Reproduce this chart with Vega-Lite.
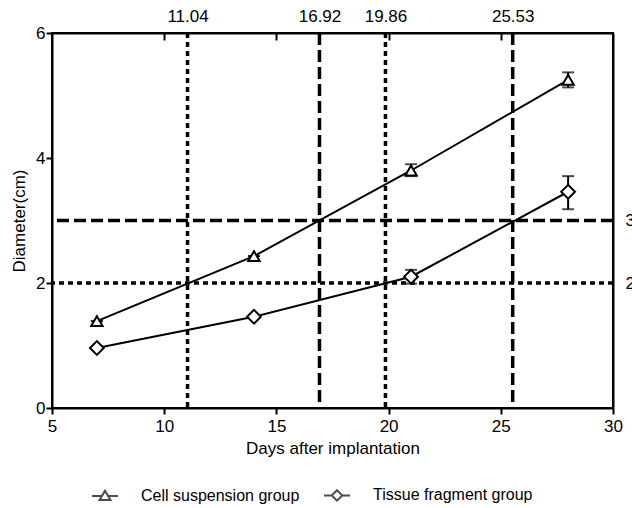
{
  "$schema": "https://vega.github.io/schema/vega-lite/v6.json",
  "width": 561,
  "height": 375,
  "autosize": {"type": "none"},
  "padding": {"left": 52, "top": 33, "right": 19, "bottom": 100},
  "background": "white",
  "config": {
    "font": "Liberation Sans",
    "view": {"stroke": "black", "strokeWidth": 2},
    "axis": {
      "domainColor": "black", "domainWidth": 2,
      "tickColor": "black", "tickWidth": 2, "tickSize": 6,
      "labelColor": "black", "titleColor": "black",
      "labelFont": "Liberation Sans", "titleFont": "Liberation Sans",
      "labelFontSize": 17, "titleFontSize": 17, "titleFontWeight": "normal",
      "grid": false
    },
    "legend": {
      "labelFont": "Liberation Sans", "labelFontSize": 16, "labelColor": "black",
      "padding": 0
    }
  },
  "datasets": {
    "growth": [
      {"group": "Cell suspension group", "day": 7, "mean": 1.39, "lo": 1.39, "hi": 1.39},
      {"group": "Cell suspension group", "day": 14, "mean": 2.43, "lo": 2.43, "hi": 2.43},
      {"group": "Cell suspension group", "day": 21, "mean": 3.80, "lo": 3.71, "hi": 3.90},
      {"group": "Cell suspension group", "day": 28, "mean": 5.25, "lo": 5.13, "hi": 5.37},
      {"group": "Tissue fragment group", "day": 7, "mean": 0.96, "lo": 0.96, "hi": 0.96},
      {"group": "Tissue fragment group", "day": 14, "mean": 1.46, "lo": 1.46, "hi": 1.46},
      {"group": "Tissue fragment group", "day": 21, "mean": 2.10, "lo": 1.99, "hi": 2.21},
      {"group": "Tissue fragment group", "day": 28, "mean": 3.46, "lo": 3.18, "hi": 3.71}
    ],
    "crossings": [
      {"group": "Cell suspension group", "threshold": 2, "day": 11.04},
      {"group": "Cell suspension group", "threshold": 3, "day": 16.92},
      {"group": "Tissue fragment group", "threshold": 2, "day": 19.86},
      {"group": "Tissue fragment group", "threshold": 3, "day": 25.53}
    ],
    "thresholds": [{"threshold": 2}, {"threshold": 3}]
  },
  "layer": [
    {
      "data": {"name": "crossings"},
      "transform": [{"filter": "datum.threshold == 2"}],
      "mark": {"type": "rule", "color": "black", "strokeWidth": 3.5, "strokeDash": [5, 4]},
      "encoding": {
        "x": {
          "field": "day", "type": "quantitative",
          "scale": {"domain": [5, 30], "nice": false, "zero": false},
          "axis": {
            "orient": "top", "title": null,
            "values": [10, 15, 20, 25, 11.04, 16.92, 19.86, 25.53],
            "labelExpr": "datum.value % 5 == 0 ? '' : format(datum.value, '.2f')",
            "tickSize": -7,
            "tickColor": {"condition": {"test": "datum.value % 5 == 0", "value": "black"}, "value": "transparent"},
            "labelPadding": 15,
            "labelFlush": false,
            "labelOverlap": false
          }
        }
      }
    },
    {
      "data": {"name": "crossings"},
      "transform": [{"filter": "datum.threshold == 3"}],
      "mark": {"type": "rule", "color": "black", "strokeWidth": 3.5, "strokeDash": [12, 5]},
      "encoding": {
        "x": {"field": "day", "type": "quantitative", "axis": null}
      }
    },
    {
      "data": {"name": "thresholds"},
      "transform": [{"filter": "datum.threshold == 2"}],
      "mark": {"type": "rule", "color": "black", "strokeWidth": 3.5, "strokeDash": [5, 4]},
      "encoding": {
        "y": {
          "field": "threshold", "type": "quantitative",
          "scale": {"domain": [0, 6], "nice": false},
          "axis": {"orient": "right", "title": null, "values": [2, 3], "tickSize": 0, "labelPadding": 12}
        }
      }
    },
    {
      "data": {"name": "thresholds"},
      "transform": [{"filter": "datum.threshold == 3"}],
      "mark": {"type": "rule", "color": "black", "strokeWidth": 3.5, "strokeDash": [12, 5]},
      "encoding": {
        "y": {"field": "threshold", "type": "quantitative", "axis": null}
      }
    },
    {
      "data": {"name": "growth"},
      "mark": {"type": "line", "color": "black", "strokeWidth": 2},
      "encoding": {
        "x": {
          "field": "day", "type": "quantitative",
          "axis": {"orient": "bottom", "title": "Days after implantation", "values": [5, 10, 15, 20, 25, 30], "labelPadding": 4, "titlePadding": 6, "labelFlush": false}
        },
        "y": {
          "field": "mean", "type": "quantitative",
          "axis": {"orient": "left", "title": "Diameter(cm)", "values": [0, 2, 4, 6], "labelPadding": 1, "titlePadding": 7}
        },
        "detail": {"field": "group"}
      }
    },
    {
      "data": {"name": "growth"},
      "mark": {"type": "errorbar", "ticks": {"size": 12, "thickness": 2, "color": "black"}, "rule": {"strokeWidth": 2, "color": "black"}},
      "encoding": {
        "x": {"field": "day", "type": "quantitative", "axis": null},
        "y": {"field": "lo", "type": "quantitative", "axis": null},
        "y2": {"field": "hi"},
        "detail": {"field": "group"}
      }
    },
    {
      "data": {"name": "growth"},
      "mark": {"type": "point", "filled": true, "fill": "white", "stroke": "black", "strokeWidth": 2, "opacity": 1},
      "encoding": {
        "x": {"field": "day", "type": "quantitative", "axis": null},
        "y": {"field": "mean", "type": "quantitative", "axis": null},
        "shape": {
          "field": "group", "type": "nominal",
          "scale": {"domain": ["Cell suspension group", "Tissue fragment group"], "range": ["triangle-up", "diamond"]},
          "legend": null
        },
        "size": {
          "field": "group", "type": "nominal",
          "scale": {"domain": ["Cell suspension group", "Tissue fragment group"], "range": [130, 190]},
          "legend": null
        }
      }
    },
    {
      "data": {"name": "growth"},
      "transform": [{"filter": "datum.day < 0"}],
      "mark": {"type": "point", "filled": false, "color": "black", "strokeWidth": 2},
      "encoding": {
        "shape": {
          "field": "group", "type": "nominal",
          "scale": {
            "domain": ["Cell suspension group", "Tissue fragment group"],
            "range": [
              "M-1,0L-0.23,0M0.23,0L1,0M0,-0.4L0.42,0.32L-0.42,0.32Z",
              "M-1,0L-0.4,0M0.4,0L1,0M0,-0.4L0.4,0L0,0.4L-0.4,0Z"
            ]
          },
          "legend": {
            "title": null, "orient": "none", "direction": "horizontal",
            "legendX": 39, "legendY": 448,
            "symbolSize": 676, "symbolStrokeWidth": 2, "symbolStrokeColor": "black",
            "symbolFillColor": "white",
            "labelOffset": 22, "columnPadding": 20
          }
        }
      }
    }
  ],
  "resolve": {"scale": {"shape": "independent", "size": "independent"}}
}
